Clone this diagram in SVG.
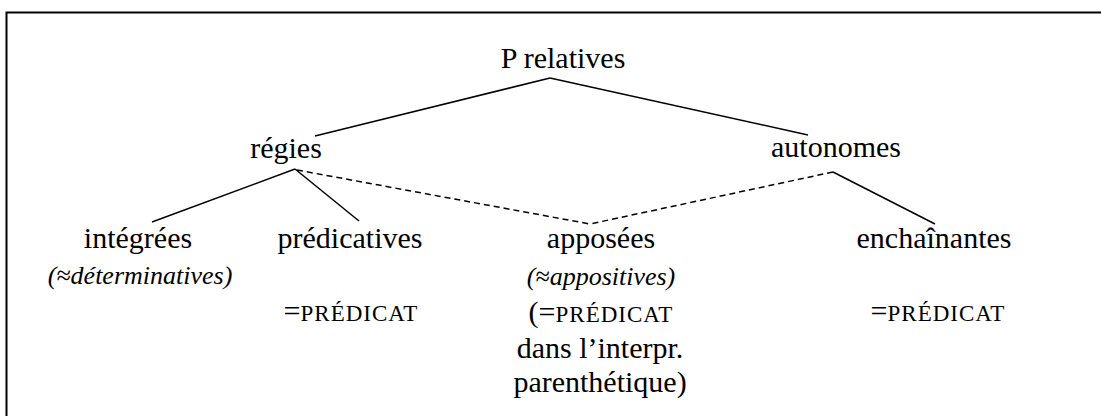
<svg xmlns="http://www.w3.org/2000/svg" width="1101" height="416" viewBox="0 0 1101 416">
<rect x="0" y="0" width="1101" height="416" fill="#fff"/>
<path d="M6.5,430 V12.5 H1110" fill="none" stroke="#000" stroke-width="2"/>
<g id="connectors" stroke="#000" stroke-width="1.5" fill="none">
<line x1="550" y1="78" x2="315" y2="136"/>
<line x1="550" y1="78" x2="808" y2="135"/>
<line x1="295" y1="169" x2="152" y2="222"/>
<line x1="295" y1="169" x2="359" y2="221"/>
<line stroke-dasharray="6,4" x1="297" y1="170" x2="590" y2="224"/>
<line stroke-dasharray="6,4" x1="833" y1="172" x2="590" y2="224"/>
<line x1="833" y1="172" x2="935" y2="224"/>
</g>
<g font-family="Liberation Serif" font-size="30" text-anchor="middle" fill="#000">
<g id="n-root"><text x="563" y="68">P relatives</text></g>
<g id="n-regies"><text x="286" y="158">régies</text></g>
<g id="n-autonomes"><text x="836" y="157">autonomes</text></g>
<g id="n-integrees"><text x="138" y="248">intégrées</text><text font-style="italic" font-size="26" x="140" y="284">(≈déterminatives)</text></g>
<g id="n-predicatives"><text x="350" y="248">prédicatives</text><text x="351" y="321">=<tspan font-size="23" letter-spacing="1">PRÉDICAT</tspan></text></g>
<g id="n-apposees"><text x="601" y="248">apposées</text><text font-style="italic" font-size="26" x="601" y="285">(≈appositives)</text><text x="601" y="322">(=<tspan font-size="23" letter-spacing="1">PRÉDICAT</tspan></text><text x="600" y="358">dans l’interpr.</text><text x="600" y="392">parenthétique)</text></g>
<g id="n-enchainantes"><text x="934" y="248">enchaînantes</text><text x="938" y="321">=<tspan font-size="23" letter-spacing="1">PRÉDICAT</tspan></text></g>
</g>
</svg>
